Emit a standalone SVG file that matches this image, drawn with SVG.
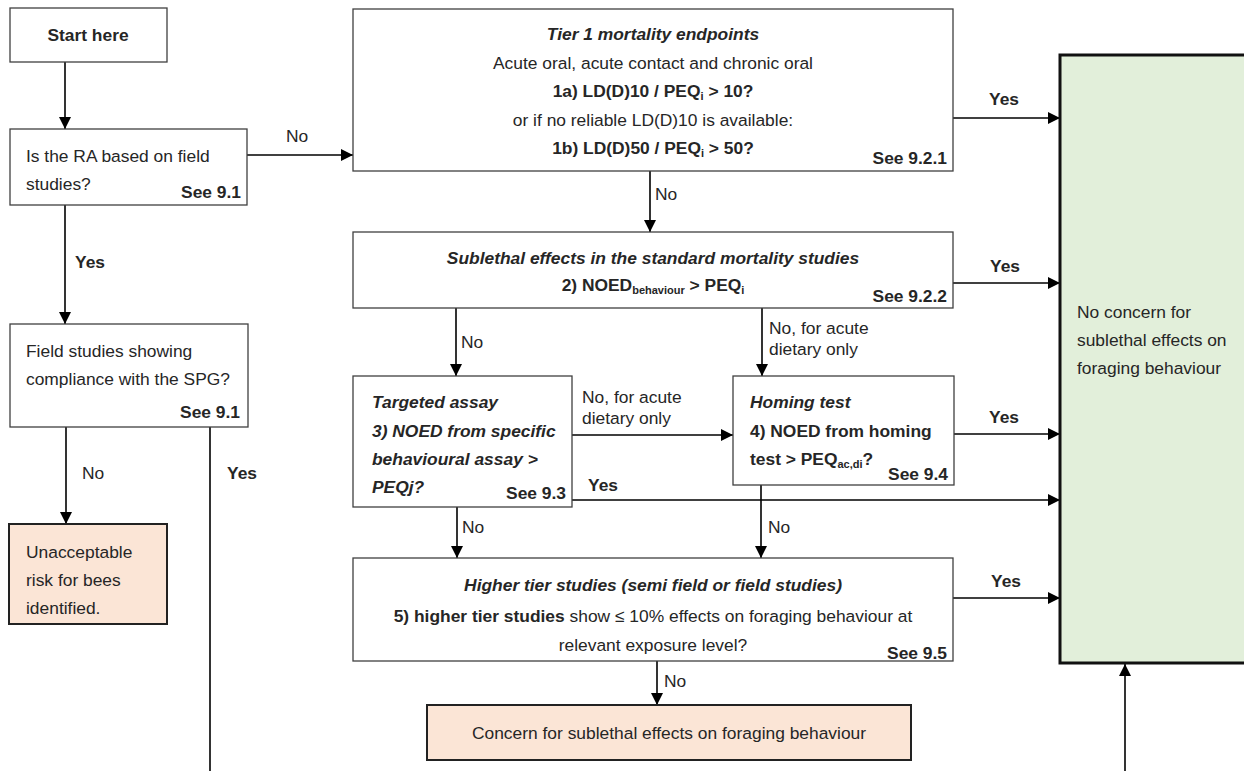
<svg xmlns="http://www.w3.org/2000/svg" width="1244" height="771" viewBox="0 0 1244 771">
<defs>
<marker id="ah" markerUnits="userSpaceOnUse" markerWidth="12" markerHeight="12" refX="12" refY="6" orient="auto">
<path d="M0,0 L12,6 L0,12 z" fill="#000"/>
</marker>
<style>
text{font-family:"Liberation Sans",Arial,sans-serif;font-size:17.4px;fill:#262626}
.b{font-weight:bold}
.bi{font-weight:bold;font-style:italic}
.m{text-anchor:middle}
.r{text-anchor:end}
.sub{font-size:11px}
.box{fill:#fff;stroke:#404040;stroke-width:1.3}
.peach{fill:#fbe5d6;stroke:#222;stroke-width:2}
.green{fill:#e2efda;stroke:#111;stroke-width:3}
.c{stroke:#000;stroke-width:1.6;fill:none}
.ca{stroke:#000;stroke-width:1.6;fill:none;marker-end:url(#ah)}
</style>
</defs>
<rect width="1244" height="771" fill="#fff"/>

<g id="connectors">
<line class="ca" x1="65" y1="62" x2="65" y2="129"/>
<line class="ca" x1="65" y1="205" x2="65" y2="324"/>
<line class="ca" x1="247" y1="155" x2="353" y2="155"/>
<line class="ca" x1="66" y1="427" x2="66" y2="524"/>
<line class="c" x1="210" y1="427" x2="210" y2="771"/>
<line class="ca" x1="650" y1="171" x2="650" y2="232"/>
<line class="ca" x1="953" y1="118" x2="1060" y2="118"/>
<line class="ca" x1="953" y1="283" x2="1060" y2="283"/>
<line class="ca" x1="456" y1="308" x2="456" y2="376"/>
<line class="ca" x1="762" y1="308" x2="762" y2="376"/>
<line class="ca" x1="572" y1="435" x2="733" y2="435"/>
<line class="ca" x1="954" y1="434" x2="1060" y2="434"/>
<line class="ca" x1="572" y1="500" x2="1060" y2="500"/>
<line class="ca" x1="457" y1="507" x2="457" y2="558"/>
<line class="ca" x1="761" y1="485" x2="761" y2="558"/>
<line class="ca" x1="953" y1="598" x2="1060" y2="598"/>
<line class="ca" x1="657" y1="661" x2="657" y2="705"/>
<line class="ca" x1="1125" y1="771" x2="1125" y2="664"/>
<text x="286" y="142">No</text>
<text class="b" x="75" y="268">Yes</text>
<text x="82" y="479">No</text>
<text class="b" x="227" y="479">Yes</text>
<text x="655" y="200">No</text>
<text class="b m" x="1004" y="105">Yes</text>
<text class="b m" x="1005" y="272">Yes</text>
<text x="461" y="348">No</text>
<text x="769" y="334">No, for acute</text>
<text x="769" y="355">dietary only</text>
<text x="582" y="403">No, for acute</text>
<text x="582" y="424">dietary only</text>
<text class="b m" x="1004" y="423">Yes</text>
<text class="b" x="588" y="491">Yes</text>
<text x="462" y="533">No</text>
<text x="768" y="533">No</text>
<text class="b m" x="1006" y="587">Yes</text>
<text x="664" y="687">No</text>
</g>

<g id="start">
<rect class="box" x="10" y="8" width="157" height="54"/>
<text class="b m" x="88" y="41">Start here</text>
</g>

<g id="ra-field">
<rect class="box" x="10" y="129" width="237" height="76"/>
<text x="26" y="162">Is the RA based on field</text>
<text x="26" y="190">studies?</text>
<text class="b r" x="241" y="198">See 9.1</text>
</g>

<g id="field-spg">
<rect class="box" x="10" y="324" width="238" height="103"/>
<text x="26" y="357">Field studies showing</text>
<text x="26" y="385">compliance with the SPG?</text>
<text class="b r" x="240" y="418">See 9.1</text>
</g>

<g id="unacceptable">
<rect class="peach" x="9" y="524" width="158" height="100"/>
<text x="26" y="558">Unacceptable</text>
<text x="26" y="586">risk for bees</text>
<text x="26" y="614">identified.</text>
</g>

<g id="tier1">
<rect class="box" x="353" y="9" width="600" height="162"/>
<text class="bi m" x="653" y="40">Tier 1 mortality endpoints</text>
<text class="m" x="653" y="69">Acute oral, acute contact and chronic oral</text>
<text class="b m" x="653" y="97">1a) LD(D)10 / PEQ<tspan class="sub" dy="3">i</tspan><tspan dy="-3"> &gt; 10?</tspan></text>
<text class="m" x="653" y="126">or if no reliable LD(D)10 is available:</text>
<text class="b m" x="653" y="154">1b) LD(D)50 / PEQ<tspan class="sub" dy="3">i</tspan><tspan dy="-3"> &gt; 50?</tspan></text>
<text class="b r" x="947" y="164">See 9.2.1</text>
</g>

<g id="sublethal">
<rect class="box" x="353" y="232" width="600" height="76"/>
<text class="bi m" x="653" y="264">Sublethal effects in the standard mortality studies</text>
<text class="b m" x="653" y="291">2) NOED<tspan class="sub" dy="3">behaviour</tspan><tspan dy="-3"> &gt; PEQ</tspan><tspan class="sub" dy="3">i</tspan></text>
<text class="b r" x="947" y="302">See 9.2.2</text>
</g>

<g id="targeted">
<rect class="box" x="353" y="376" width="219" height="131"/>
<text class="bi" x="372" y="408">Targeted assay</text>
<text class="bi" x="372" y="437">3) NOED from specific</text>
<text class="bi" x="372" y="465">behavioural assay &gt;</text>
<text class="bi" x="372" y="493">PEQj?</text>
<text class="b r" x="566" y="499">See 9.3</text>
</g>

<g id="homing">
<rect class="box" x="733" y="376" width="221" height="109"/>
<text class="bi" x="750" y="408">Homing test</text>
<text class="b" x="750" y="437">4) NOED from homing</text>
<text class="b" x="750" y="465">test &gt; PEQ<tspan class="sub" dy="3">ac,di</tspan><tspan dy="-3">?</tspan></text>
<text class="b r" x="948" y="480">See 9.4</text>
</g>

<g id="higher-tier">
<rect class="box" x="353" y="558" width="600" height="103"/>
<text class="bi m" x="653" y="591">Higher tier studies (semi field or field studies)</text>
<text class="m" x="653" y="622"><tspan class="b">5) higher tier studies</tspan> show ≤ 10% effects on foraging behaviour at</text>
<text class="m" x="653" y="651">relevant exposure level?</text>
<text class="b r" x="947" y="659">See 9.5</text>
</g>

<g id="concern">
<rect class="peach" x="427" y="705" width="484" height="55"/>
<text class="m" x="669" y="739">Concern for sublethal effects on foraging behaviour</text>
</g>

<g id="no-concern">
<rect class="green" x="1060" y="55" width="200" height="608"/>
<text x="1077" y="318">No concern for</text>
<text x="1077" y="346">sublethal effects on</text>
<text x="1077" y="374">foraging behaviour</text>
</g>
</svg>
